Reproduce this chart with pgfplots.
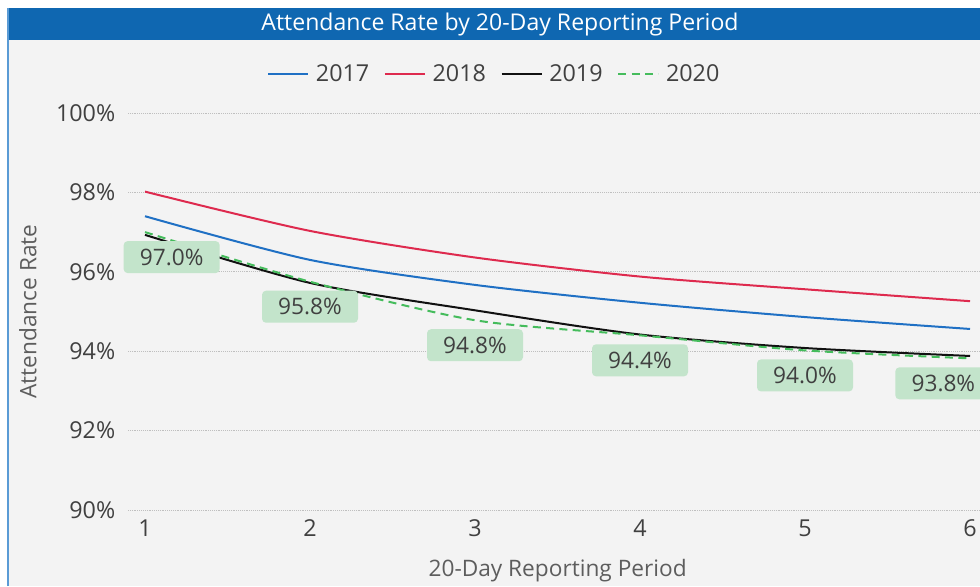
\documentclass[border=0pt]{standalone}
\usepackage{fontspec}
\setmainfont{Open Sans}
\usepackage{pgfplots}
\pgfplotsset{compat=1.18}

\definecolor{panel}{HTML}{F3F3F3}
\definecolor{titlebar}{HTML}{0F67B1}
\definecolor{edge}{HTML}{5A9BD5}
\definecolor{c17}{HTML}{1F70C4}
\definecolor{c18}{HTML}{DE2A4E}
\definecolor{c19}{HTML}{111111}
\definecolor{c20}{HTML}{45BC5C}
\definecolor{lbl}{HTML}{C3E4CB}
\definecolor{txt}{HTML}{404040}

\begin{document}
\begin{tikzpicture}[x=0.75pt,y=0.75pt]
% background, panel, title bar (units are pixels of the 980x586 target)
\fill[white] (0,0) rectangle (980,586);
\fill[panel] (8,0) rectangle (980,546);
\fill[titlebar] (8,546) rectangle (980,578);
\draw[edge,line width=0.8pt] (8,0) -- (8,578);
\node[white,font=\fontsize{17.3}{20}\selectfont] at (500,561) {Attendance Rate by 20-Day Reporting Period};

\begin{axis}[
  at={(96pt,57pt)},anchor=south west,
  scale only axis,width=656.25pt,height=297.75pt,
  xmin=0.897,xmax=6.2,ymin=90,ymax=100,
  clip=false,
  axis line style={draw=none},
  major tick length=0pt,
  xtick={1,2,3,4,5,6},
  ytick={90,92,94,96,98,100},
  yticklabel={\pgfmathprintnumber{\tick}\%},
  ymajorgrids,
  grid style={densely dotted,black!25,line width=0.6pt},
  tick label style={font=\fontsize{17.5}{20}\selectfont,text=txt},
  /pgf/number format/assume math mode=true,
  yticklabel style={anchor=east,xshift=-6pt},
  xticklabel style={anchor=north,yshift=-4pt},
  xlabel={20-Day Reporting Period},
  ylabel={Attendance Rate},
  label style={font=\fontsize{17}{20}\selectfont,text=txt!85},
  xlabel style={at={(axis description cs:0.491,-0.153)},anchor=center},
  ylabel style={at={(axis description cs:-0.1143,0.5)},anchor=center,rotate=0},
  legend style={at={(axis description cs:0.419,1.098)},anchor=center,
    draw=none,fill=none,legend columns=4,
    font=\fontsize{17.5}{20}\selectfont,text=txt,
    /tikz/every odd column/.append style={column sep=3pt},
    /tikz/every even column/.append style={column sep=9pt},
    inner sep=0pt},
  legend image code/.code={\draw[#1] (0pt,0pt) -- (30pt,0pt);},
  every axis plot/.append style={line width=1.5pt,smooth,tension=0.45},
]
\addplot[c17] coordinates {(1,97.4) (2,96.3) (3,95.67) (4,95.22) (5,94.86) (6,94.56)};
\addlegendentry{2017}
\addplot[c18] coordinates {(1,98.02) (2,97.03) (3,96.36) (4,95.88) (5,95.56) (6,95.26)};
\addlegendentry{2018}
\addplot[c19] coordinates {(1,96.93) (2,95.72) (3,95.03) (4,94.42) (5,94.08) (6,93.88)};
\addlegendentry{2019}
\addplot[c20,dashed,dash pattern=on 6pt off 4pt,
  nodes near coords={\pgfmathprintnumber[fixed,fixed zerofill,precision=1]{\pgfplotspointmeta}\%},
  nodes near coords style={anchor=north,fill=lbl,rounded corners=3pt,text=txt,
    minimum width=72pt,minimum height=24pt,inner sep=2pt,yshift=-6pt,
    font=\fontsize{17}{20}\selectfont},
  coordinate style/.condition={\coordindex==0}{xshift=20pt},
  coordinate style/.condition={\coordindex==5}{xshift=-20pt},
] coordinates {(1,97.0) (2,95.75) (3,94.78) (4,94.4) (5,94.02) (6,93.82)};
\addlegendentry{2020}
\end{axis}
\pgfresetboundingbox
\useasboundingbox (0,0) rectangle (980,586);
\end{tikzpicture}
\end{document}
